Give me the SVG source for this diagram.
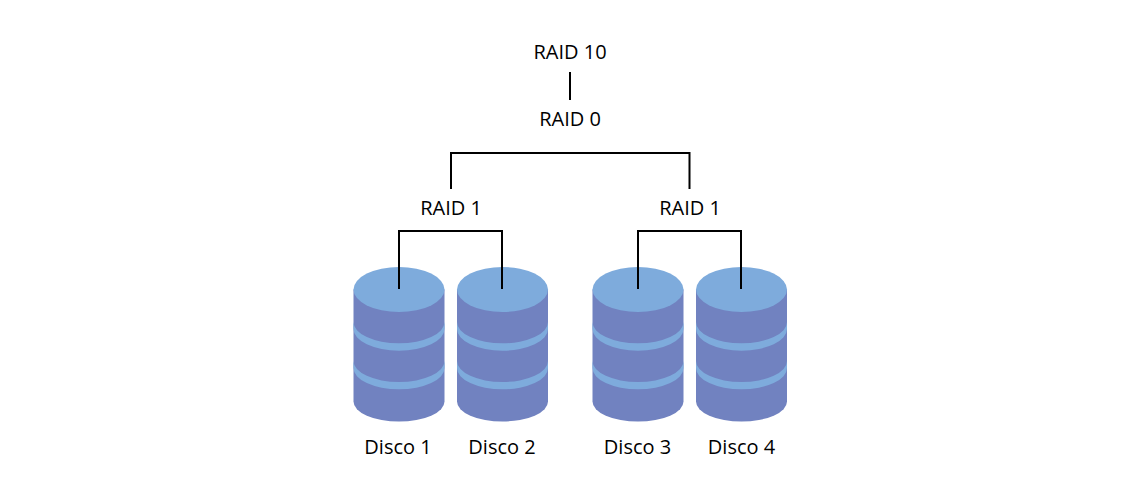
<svg xmlns="http://www.w3.org/2000/svg" width="1140" height="500" viewBox="0 0 1140 500">
<style>
.t{font-family:"Open Sans","Noto Sans",sans-serif;font-size:20px;fill:#000;text-anchor:middle}
.b{fill:#7182c0}
.l{fill:#7eabdc}
.c{fill:none;stroke:#000;stroke-width:2}
</style>
<defs>
<g id="disk">
<path class="b" d="M-45.500 0V112A45.500 20 0 0 0 45.500 112V0Z"/>
<path class="l" d="M-45.500 32.500A45.500 21.300 0 0 0 45.500 32.500V39.500A45.500 21.700 0 0 1 -45.500 39.500Z"/>
<path class="l" d="M-45.500 71.500A45.500 21 0 0 0 45.500 71.500V78.500A45.500 21.300 0 0 1 -45.500 78.500Z"/>
<ellipse class="l" cx="0" cy="0" rx="45.500" ry="22.500"/>
</g>
</defs>
<rect width="1140" height="500" fill="#fff"/>
<g id="disco1"><use href="#disk" x="399" y="289.500"/><text class="t" x="398" y="454">Disco 1</text></g>
<g id="disco2"><use href="#disk" x="502.500" y="289.500"/><text class="t" x="502" y="454">Disco 2</text></g>
<g id="disco3"><use href="#disk" x="638" y="289.500"/><text class="t" x="637.500" y="454">Disco 3</text></g>
<g id="disco4"><use href="#disk" x="741.500" y="289.500"/><text class="t" x="741.500" y="454">Disco 4</text></g>
<g id="raid10"><text class="t" x="570" y="59">RAID 10</text></g>
<g id="raid0"><text class="t" x="570" y="126">RAID 0</text></g>
<g id="raid1a"><text class="t" x="451" y="215">RAID 1</text></g>
<g id="raid1b"><text class="t" x="690" y="215">RAID 1</text></g>
<g id="connectors">
<path class="c" d="M570 72V100"/>
<path class="c" d="M451 189V153H689.500V189"/>
<path class="c" d="M399 289V231H502V289"/>
<path class="c" d="M638 289V231H741V289"/>
</g>
</svg>
